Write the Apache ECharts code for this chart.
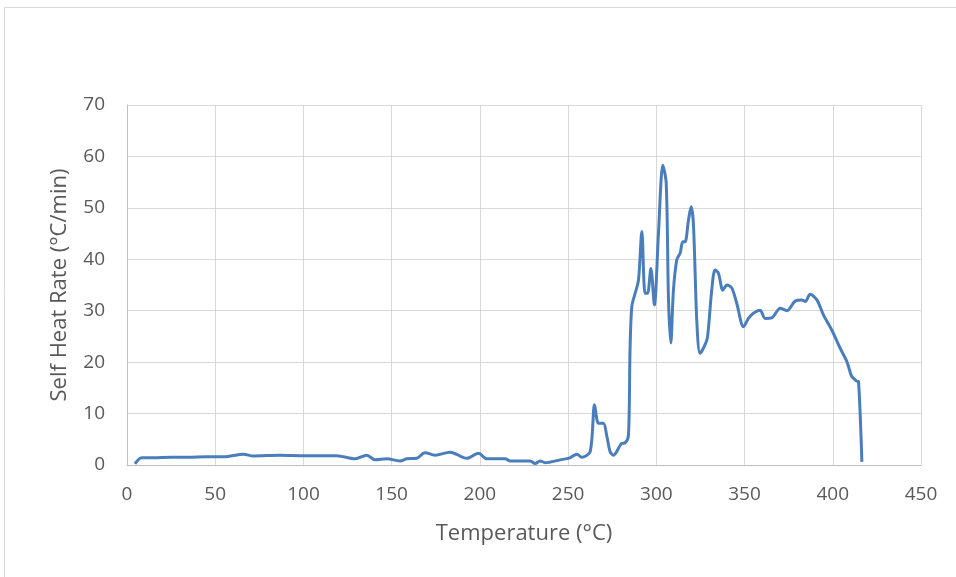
<!DOCTYPE html>
<html>
<head>
<meta charset="utf-8">
<script src="https://cdn.jsdelivr.net/npm/echarts@6/dist/echarts.min.js"></script>
<style>html,body{margin:0;padding:0;background:#fff}#c{width:956px;height:577px}</style>
</head>
<body>
<div id="c"></div>
<script>
var temperature = [4.5,8.3,15,25,35,45,55,66,71.6,86.7,100,118.9,129.3,135.9,140.6,147.2,154.8,158.6,164.2,168.9,174.6,183.1,192.6,199.2,203.9,214.3,217.1,228.5,231.3,234.1,237,245.5,251,255,257.7,262.5,265,267.2,270,272,273.8,275.7,280.4,282.3,284.2,285.1,286.1,288,289.9,291.8,293.6,295,296.9,298.9,301.2,303.7,305.6,306.9,308.2,309.7,311.6,313.5,315,316.3,318.2,319.7,321,323,324.8,327.1,329,331.4,333.3,335.2,337.7,340,342.8,345.6,349.4,352.2,355,358.8,361.7,365.4,370.2,374,378.7,382.5,384.4,387.2,391,394.7,399.5,404.2,408,410.8,413.6,414.6,416.5];
var selfHeatRate = [0.2,1.4,1.4,1.5,1.5,1.6,1.6,2.1,1.75,1.9,1.8,1.8,1.2,1.9,1.0,1.2,0.8,1.2,1.3,2.4,1.9,2.5,1.3,2.3,1.2,1.2,0.8,0.8,0.3,0.8,0.45,1.0,1.4,2.1,1.5,2.6,11.7,8.1,8.1,5.5,2.6,1.9,4.2,4.3,5.8,22.4,30.8,33.4,36,45.4,33.4,33.4,38.2,31.1,45,58.3,54.8,32.1,23.7,34,39.9,41.2,43.4,43.4,47.6,50.2,47,27.5,21.7,23,24.9,34,37.9,37.3,34,35,34.4,31.4,26.9,28.5,29.5,30.1,28.5,28.6,30.5,30,31.9,32.1,31.8,33.2,32.1,29.2,26.2,22.7,20.1,17.2,16.3,16.2,0.6];
var xTicks = {min: 0, max: 450, interval: 50};
var yTicks = {min: 0, max: 70, interval: 10};

var pts = temperature.map(function(t, i){ return [t, selfHeatRate[i]]; });
var chart = echarts.init(document.getElementById('c'), null, {renderer: 'canvas'});
var font = '"Open Sans", "Liberation Sans", sans-serif';
chart.setOption({
  backgroundColor: '#fff',
  animation: false,
  graphic: [{type: 'rect', shape: {x: 4.5, y: 7.5, width: 960, height: 580}, style: {fill: 'none', stroke: '#d9d9d9', lineWidth: 1}, silent: true, z: -1}],
  grid: {left: 127, right: 35, top: 105, bottom: 112},
  xAxis: {
    type: 'value', min: xTicks.min, max: xTicks.max, interval: xTicks.interval,
    name: 'Temperature (°C)', nameLocation: 'middle', nameGap: 58,
    nameTextStyle: {color: '#595959', fontSize: 22, fontFamily: font},
    axisLine: {show: true, lineStyle: {color: '#bfbfbf', width: 1}},
    axisTick: {show: false},
    axisLabel: {color: '#595959', fontSize: 19, fontFamily: font, margin: 20},
    splitLine: {show: true, lineStyle: {color: '#d9d9d9', width: 1}}
  },
  yAxis: {
    type: 'value', min: yTicks.min, max: yTicks.max, interval: yTicks.interval,
    name: 'Self Heat Rate (°C/min)', nameLocation: 'middle', nameGap: 56,
    nameTextStyle: {color: '#595959', fontSize: 22, fontFamily: font},
    axisLine: {show: true, lineStyle: {color: '#bfbfbf', width: 1}},
    axisTick: {show: false},
    axisLabel: {color: '#595959', fontSize: 19, fontFamily: font, margin: 22},
    splitLine: {show: true, lineStyle: {color: '#d9d9d9', width: 1}}
  },
  series: [{
    type: 'line', data: pts, smooth: 0.3, showSymbol: false,
    lineStyle: {color: '#4a7ebb', width: 3}
  }]
});
</script>
</body>
</html>
